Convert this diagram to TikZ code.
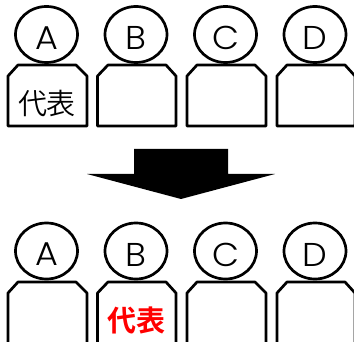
\documentclass[tikz,border=0pt]{standalone}
\usepackage{fontspec}
\setmainfont[UprightFont=* Light,FakeStretch=1.06]{Poppins}
\newfontfamily\cjk[UprightFont=* DemiLight,BoldFont=* Bold]{Noto Sans CJK JP}
\begin{document}
\begin{tikzpicture}[x=1pt,y=-1pt,
  ln/.style={draw=black,line width=2.7pt,line join=round},
  head/.style={ln,fill=white},
  letter/.style={font=\fontsize{33}{33}\selectfont,text=black,inner sep=0pt,anchor=center},
  daihyo/.style={font=\fontsize{29}{29}\selectfont\cjk,inner sep=0pt,anchor=center},
  arrowshape/.style={fill=black,draw=none}]
\useasboundingbox (0,0) rectangle (354,342);
\clip (0,0) rectangle (354,342);
% top row
\draw[ln] (8,76) -- (18,65) -- (76,65) -- (87,76) -- (87,126) -- (8,126) -- cycle;
\draw[head] (46.5,34.5) ellipse [x radius=31,y radius=28];
\node[letter] (a1) at (46.5,38) {A};
\draw[ln] (97.5,76) -- (108,65) -- (166,65) -- (176,76) -- (176,126) -- (97.5,126) -- cycle;
\draw[head] (136,34.5) ellipse [x radius=31,y radius=28];
\node[letter] (b1) at (136,38) {B};
\draw[ln] (187,76) -- (197,65) -- (255,65) -- (266,76) -- (266,126) -- (187,126) -- cycle;
\draw[head] (225.5,34.5) ellipse [x radius=31,y radius=28];
\node[letter] (c1) at (225.5,38) {C};
\draw[ln] (277,76) -- (287,65) -- (345,65) -- (355,76) -- (355,126) -- (277,126) -- cycle;
\draw[head] (315,34.5) ellipse [x radius=31,y radius=28];
\node[letter] (d1) at (315,38) {D};
\node[daihyo] (rep1) at (47,103) {代表};
% arrow
\fill[arrowshape] (134,149) -- (228,149) -- (228,174) -- (275,174) -- (181,199) -- (87,174) -- (134,174) -- cycle;
% bottom row
\draw[ln] (8,293) -- (18,282) -- (76,282) -- (87,293) -- (87,344) -- (8,344) -- cycle;
\draw[head] (46.5,251) ellipse [x radius=31,y radius=28];
\node[letter] (a2) at (46.5,254.5) {A};
\draw[ln] (97.5,293) -- (108,282) -- (166,282) -- (176,293) -- (176,344) -- (97.5,344) -- cycle;
\draw[head] (136,251) ellipse [x radius=31,y radius=28];
\node[letter] (b2) at (136,254.5) {B};
\draw[ln] (187,293) -- (197,282) -- (255,282) -- (266,293) -- (266,344) -- (187,344) -- cycle;
\draw[head] (225.5,251) ellipse [x radius=31,y radius=28];
\node[letter] (c2) at (225.5,254.5) {C};
\draw[ln] (277,293) -- (287,282) -- (345,282) -- (355,293) -- (355,344) -- (277,344) -- cycle;
\draw[head] (315,251) ellipse [x radius=31,y radius=28];
\node[letter] (d2) at (315,254.5) {D};
\node[daihyo,text=red,font=\fontsize{29}{29}\selectfont\cjk\bfseries] (rep2) at (136.5,320) {代表};
\end{tikzpicture}
\end{document}
